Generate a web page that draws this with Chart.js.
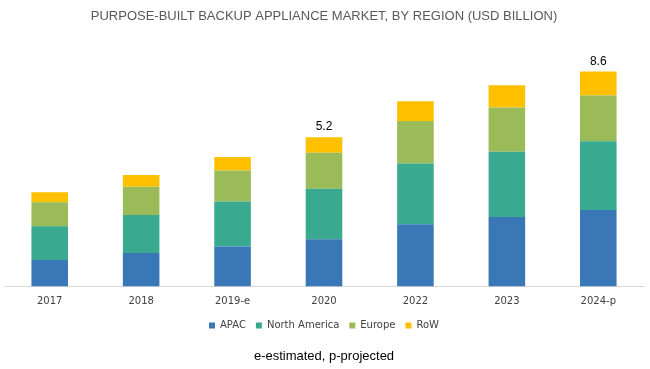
<!DOCTYPE html>
<html>
<head>
<meta charset="utf-8">
<script src="https://cdn.jsdelivr.net/npm/chart.js@4.4.1/dist/chart.umd.min.js"></script>
<style>
  html, body { margin: 0; padding: 0; background: #fff; }
  #wrap { width: 650px; height: 369px; }
</style>
</head>
<body>
<div id="wrap"><canvas id="marketChart"></canvas></div>
<script>
// Purpose-built backup appliance market, by region
const years = ['2017', '2018', '2019-e', '2020', '2022', '2023', '2024-p'];
const apac = [0.92, 1.16, 1.39, 1.64, 2.17, 2.42, 2.66];
const northAmerica = [1.18, 1.33, 1.57, 1.76, 2.11, 2.27, 2.40];
const europe = [0.83, 0.98, 1.08, 1.26, 1.48, 1.54, 1.59];
const row = [0.35, 0.41, 0.47, 0.54, 0.69, 0.78, 0.84];
const totalLabels = ['', '', '', '5.2', '', '', '8.6'];

// write the total above the top segment
const totalsPlugin = {
    id: 'totals',
    afterDatasetsDraw(chart) {
        const ctx = chart.ctx;
        const top = chart.getDatasetMeta(chart.data.datasets.length - 1);
        ctx.save();
        ctx.font = '12px "Liberation Sans", Arial, sans-serif';
        ctx.fillStyle = '#000';
        ctx.textAlign = 'center';
        ctx.textBaseline = 'bottom';
        top.data.forEach((bar, i) => {
            if (totalLabels[i]) ctx.fillText(totalLabels[i], bar.x, bar.y - 4);
        });
        ctx.restore();
    }
};

const ctx = document.getElementById('marketChart').getContext('2d');

const marketChart = new Chart(ctx, {
    type: 'bar',
    data: {
        labels: years,
        datasets: [
            { label: 'APAC', data: apac, backgroundColor: '#3a77b6' },
            { label: 'North America', data: northAmerica, backgroundColor: '#39a98f' },
            { label: 'Europe', data: europe, backgroundColor: '#9bbb58' },
            { label: 'RoW', data: row, backgroundColor: '#ffc000' }
        ]
    },
    options: {
        responsive: true,
        maintainAspectRatio: false,
        animation: false,
        datasets: {
            bar: { barPercentage: 0.8, categoryPercentage: 0.5 }
        },
        layout: {
            padding: { left: 4, right: 6, top: 0, bottom: 0 }
        },
        plugins: {
            title: {
                display: true,
                text: 'PURPOSE-BUILT BACKUP APPLIANCE MARKET, BY REGION (USD BILLION)',
                color: '#595959',
                font: { family: '"Liberation Sans", Arial, sans-serif', size: 13, weight: 'normal' },
                padding: { top: 9, bottom: 15 }
            },
            subtitle: {
                display: true,
                position: 'bottom',
                text: 'e-estimated, p-projected',
                color: '#000',
                font: { family: '"Liberation Sans", Arial, sans-serif', size: 13 },
                padding: { top: 8, bottom: 5 }
            },
            legend: {
                position: 'bottom',
                labels: {
                    color: '#404040',
                    font: { family: '"DejaVu Sans", sans-serif', size: 10 },
                    boxWidth: 6,
                    boxHeight: 6,
                    padding: 10
                }
            },
            tooltip: { enabled: false }
        },
        scales: {
            x: {
                stacked: true,
                grid: { display: false },
                border: { display: true, color: '#d9d9d9', width: 1 },
                ticks: {
                    color: '#404040',
                    font: { family: '"DejaVu Sans", sans-serif', size: 10 },
                    padding: 1
                },
                afterFit(scale) {
                    scale.height += 2;
                }
            },
            y: {
                stacked: true,
                display: false,
                min: 0,
                max: 8.6
            }
        }
    },
    plugins: [totalsPlugin]
});
</script>
</body>
</html>
